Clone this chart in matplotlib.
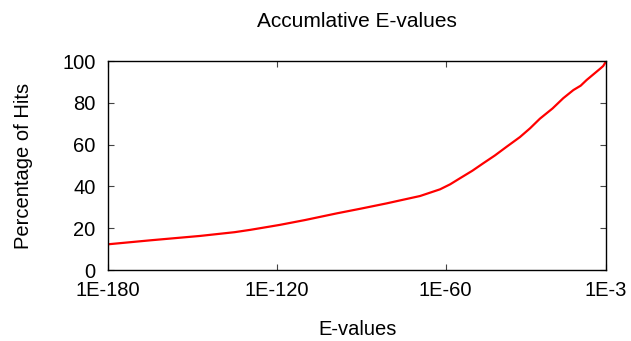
import matplotlib
matplotlib.use("Agg")
import matplotlib.pyplot as plt

# exponent of the E-value (log10) and accumulated percentage of hits
exponents = [-180, -165, -147.3, -135, -129.5, -122.4, -118.9, -110, -98.7,
             -90, -80.9, -76.2, -69.1, -62.0, -58.4, -54.9, -50.5, -46.6,
             -42.5, -38.3, -33.6, -30.0, -26.5, -22.0, -18.2, -14.6, -12.0,
             -9.9, -7.5, -5.1, -4.0, -3.0]
percent = [12.3, 14.2, 16.3, 18.1, 19.2, 20.8, 21.6, 23.9, 27.1,
           29.4, 31.9, 33.3, 35.4, 38.6, 41.0, 43.9, 47.5, 51.1,
           54.8, 59.0, 63.6, 67.8, 72.4, 77.3, 82.2, 86.1, 88.2,
           90.9, 93.6, 96.3, 97.6, 99.8]

tick_pos = [-180, -120, -60, -3]
tick_labels = ["1E-180", "1E-120", "1E-60", "1E-3"]

plt.rcParams['font.family'] = ['Liberation Sans', 'DejaVu Sans']
FS = 14.5

fig = plt.figure(figsize=(6.31, 3.41), dpi=100)
ax = fig.add_axes([0.1712, 0.2082, 0.9604 - 0.1712, 0.8211 - 0.2082])

ax.plot(exponents, percent, color='#ff0000', linewidth=1.6)

ax.set_xlim(-180, -3)
ax.set_ylim(0, 100)
ax.set_xticks(tick_pos)
ax.set_xticklabels(tick_labels)
ax.set_yticks([0, 20, 40, 60, 80, 100])

ax.tick_params(direction='in', length=4, width=0.8, color='#444444',
               top=True, right=True, labelsize=FS)
ax.tick_params(axis='x', pad=8)
ax.tick_params(axis='y', pad=9)
for sp in ax.spines.values():
    sp.set_linewidth(1.0)
    sp.set_color('black')

fig.text(0.566, 0.936, "Accumlative E-values", ha='center', va='center', fontsize=15)
fig.text(0.566, 0.035, "E-values", ha='center', va='center', fontsize=FS)
fig.text(0.037, 0.513, "Percentage of Hits", ha='center', va='center',
         rotation=90, fontsize=FS)

fig.savefig("out.png", dpi=100)
